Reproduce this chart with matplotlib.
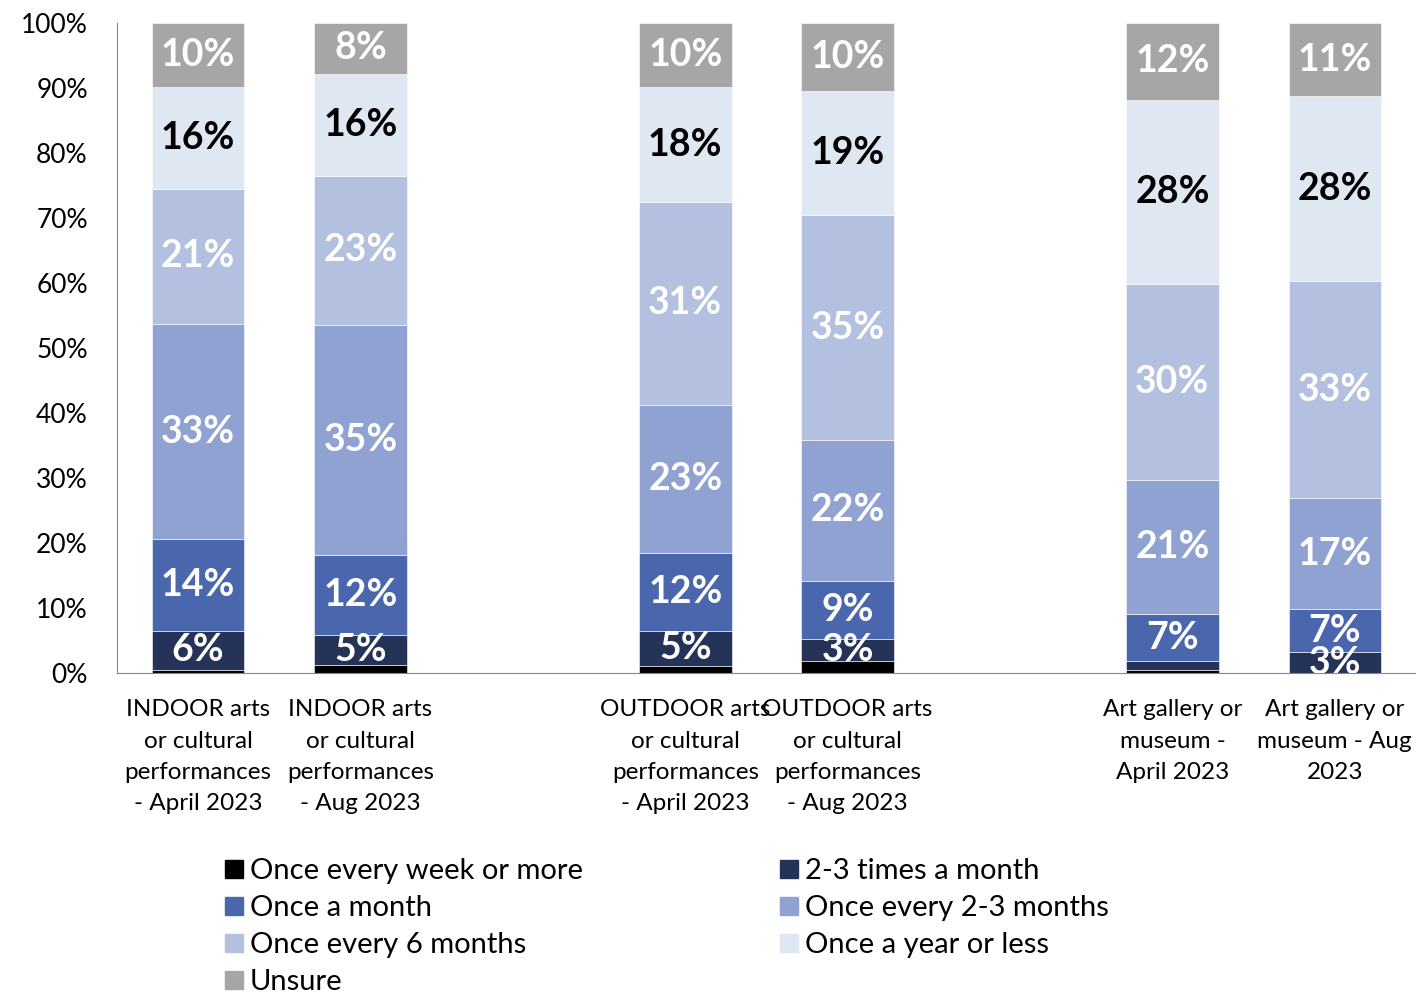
import numpy as np
import matplotlib
matplotlib.use("Agg")
import matplotlib.pyplot as plt
from matplotlib.lines import Line2D

plt.rcParams['font.family'] = ['Lato', 'DejaVu Sans']

# categories (slots 2 and 5 are empty gaps between groups)
categories = [
    "INDOOR arts\nor cultural\nperformances\n- April 2023",
    "INDOOR arts\nor cultural\nperformances\n- Aug 2023",
    "OUTDOOR arts\nor cultural\nperformances\n- April 2023",
    "OUTDOOR arts\nor cultural\nperformances\n- Aug 2023",
    "Art gallery or\nmuseum -\nApril 2023",
    "Art gallery or\nmuseum - Aug\n2023",
]
slots = [0, 1, 3, 4, 6, 7]

series_names = [
    "Once every week or more",
    "2-3 times a month",
    "Once a month",
    "Once every 2-3 months",
    "Once every 6 months",
    "Once a year or less",
    "Unsure",
]
colors = ["#000000", "#253358", "#4A67AD", "#8FA2D1", "#B4C0E0", "#DFE7F2", "#A6A6A6"]
label_colors = ["white", "white", "white", "white", "white", "black", "white"]

# percentages per series, one value per bar
week_or_more = [0.5, 1.2, 1.1, 1.8, 0.5, 0.0]
two_three_month = [6.0, 4.6, 5.4, 3.4, 1.3, 3.2]
once_month = [14.1, 12.4, 12.0, 9.0, 7.3, 6.6]
two_three_months = [33.1, 35.4, 22.7, 21.6, 20.6, 17.1]
six_months = [20.8, 22.9, 31.3, 34.6, 30.1, 33.4]
year_or_less = [15.7, 15.7, 17.6, 19.2, 28.4, 28.4]
unsure = [9.8, 7.8, 9.9, 10.4, 11.8, 11.3]

series = [week_or_more, two_three_month, once_month, two_three_months,
          six_months, year_or_less, unsure]

fig = plt.figure(figsize=(14.16, 9.92), dpi=100)
ax = fig.add_axes([0.0826, 0.3216, 0.9174, 0.6552])

bottom = np.zeros(len(slots))
handles = []
for vals, col, lc, name in zip(series, colors, label_colors, series_names):
    vals = np.array(vals)
    ax.bar(slots, vals, width=0.57, bottom=bottom, color=col,
           edgecolor="white", linewidth=0.4)
    for x, v, b in zip(slots, vals, bottom):
        if v >= 2.5:
            ax.text(x, b + v / 2, f"{v:.0f}%", ha="center", va="center",
                    color=lc, fontsize=27, fontweight="bold", clip_on=True)
    bottom += vals
    handles.append(Line2D([], [], marker="s", linestyle="none", markersize=13,
                          markerfacecolor=col, markeredgecolor=col, label=name))

ax.set_xlim(-0.5, 7.5)
ax.set_ylim(0, 100)
ax.set_yticks(np.arange(0, 101, 10))
ax.set_yticklabels([f"{t}%" for t in range(0, 101, 10)])
ax.set_xticks(slots)
ax.set_xticklabels(categories, linespacing=1.6)
ax.tick_params(axis="y", length=0, pad=21, labelsize=19)
ax.tick_params(axis="x", length=0, pad=19, labelsize=17.5)

for s in ["top", "right"]:
    ax.spines[s].set_visible(False)
ax.spines["left"].set_color("#868686")
ax.spines["bottom"].set_color("#868686")

order_left = [0, 2, 4, 6]
order_right = [1, 3, 5]
fig.legend(handles=[handles[i] for i in order_left], loc="upper left",
           bbox_to_anchor=(0.157, 0.135), frameon=False, fontsize=21,
           handletextpad=0.15, labelspacing=0.38, borderpad=0, borderaxespad=0,
           handlelength=0.8)
fig.legend(handles=[handles[i] for i in order_right], loc="upper left",
           bbox_to_anchor=(0.549, 0.135), frameon=False, fontsize=21,
           handletextpad=0.15, labelspacing=0.38, borderpad=0, borderaxespad=0,
           handlelength=0.8)

fig.savefig("out.png", dpi=100)
